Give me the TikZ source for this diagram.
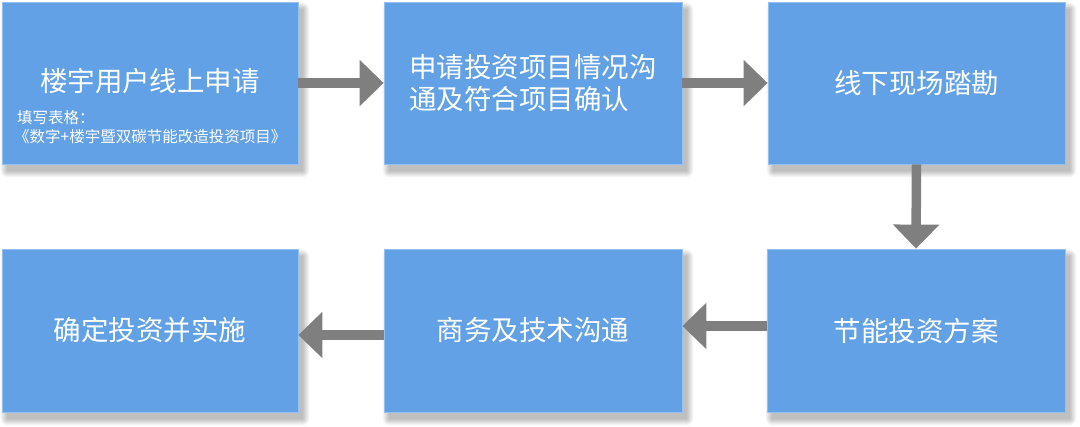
\documentclass[tikz,border=0pt]{standalone}
\usepackage{fontspec}
\newfontfamily\cjk{Noto Sans CJK SC}
\usetikzlibrary{arrows.meta}
\definecolor{boxblue}{RGB}{99,161,230}
\definecolor{boxedge}{RGB}{150,192,240}
\definecolor{arrgray}{RGB}{127,127,127}
\tikzset{
  flowbox/.style={rectangle, fill=boxblue, draw=boxedge, line width=0.8pt, inner sep=0pt,
    minimum width=297pt, minimum height=162pt, text=white, font=\cjk\fontsize{27.5}{32}\selectfont},
  arr/.style={draw=arrgray, line width=9.5pt, -{Triangle[width=45pt,length=24pt]}, arrgray},
  subtxt/.style={text=white, font=\cjk\fontsize{15.5}{19}\selectfont, anchor=west, inner sep=0pt},
}
\newcommand{\boxshadow}[4]{%
  \foreach \k in {0,...,7}{
    \fill[black, opacity=0.035, rounded corners=\k pt]
      ({#1+5-\k*0.9}, {#2+7-\k*0.9}) rectangle ({#3+5+\k*0.9}, {#4+7+\k*0.9});
  }%
}
\begin{document}
\begin{tikzpicture}[x=1pt,y=-1pt]
\useasboundingbox (0,0) rectangle (1080,427);
% shadows
\boxshadow{2}{2}{298}{164}
\boxshadow{384}{2}{682}{164}
\boxshadow{768}{2}{1065}{164}
\boxshadow{2}{249}{298}{412}
\boxshadow{384}{249}{682}{412}
\boxshadow{767}{249}{1065}{412}
% boxes
\node[flowbox, minimum width=296pt] (n1) at (150,83) {};
\node[text=white, font=\cjk\fontsize{27.5}{32}\selectfont, inner sep=0pt] (t1) at (150,81) {楼宇用户线上申请};
\node[subtxt] (s1) at (17,118) {填写表格：};
\node[subtxt] (s2) at (14,137) {《数字+楼宇暨双碳节能改造投资项目》};
\node[flowbox, minimum width=298pt, align=left] (n2) at (533,83) {申请投资项目情况沟\\通及符合项目确认};
\node[flowbox] (n3) at (916.5,83) {线下现场踏勘};
\node[flowbox, minimum width=296pt, minimum height=163pt] (n4) at (150,330.5) {确定投资并实施};
\node[flowbox, minimum width=298pt, minimum height=163pt] (n5) at (533,330.5) {商务及技术沟通};
\node[flowbox, minimum width=298pt, minimum height=163pt] (n6) at (916,330.5) {节能投资方案};
% arrows
\draw[arr] (n1.east) -- (n2.west);
\draw[arr] (n2.east) -- (n3.west);
\draw[arr] (n3.south) -- (n6.north);
\draw[arr] ([yshift=4.5pt]n6.west) -- ([yshift=4.5pt]n5.east);
\draw[arr] ([yshift=-4.5pt]n5.west) -- ([yshift=-4.5pt]n4.east);
\end{tikzpicture}
\end{document}
